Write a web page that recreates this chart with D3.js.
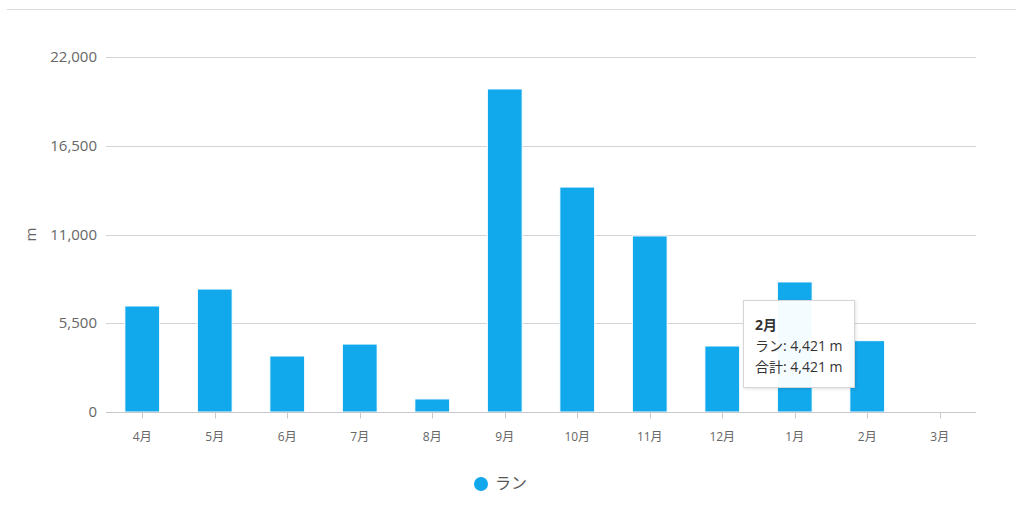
<!DOCTYPE html>
<html>
<head>
<meta charset="utf-8">
<script src="https://cdn.jsdelivr.net/npm/d3@7"></script>
<style>
  body { margin: 0; background: #fff; font-family: "Open Sans", "Noto Sans CJK JP", sans-serif; }
  #tip {
    position: absolute; left: 743px; top: 300px; width: 112px; height: 88px;
    background: rgba(255,255,255,0.96); border: 1px solid #d6d6d6;
    box-shadow: 1px 1px 3px rgba(0,0,0,0.12); box-sizing: border-box;
    font-size: 14px; color: #333; padding: 13px 0 0 11px; line-height: 21px;
  }
</style>
</head>
<body>
<div id="chart"></div>
<div id="tip"><b>2月</b><br>ラン: 4,421 m<br>合計: 4,421 m</div>
<script>
// Month data
var months = ["4月", "5月", "6月", "7月", "8月", "9月", "10月", "11月", "12月", "1月", "2月", "3月"];
var runValues = [6570, 7620, 3470, 4210, 810, 20020, 13940, 10910, 4090, 8060, 4421, 0];
var yTicks = [0, 5500, 11000, 16500, 22000];

var width = 1024, height = 507;
var margin = { left: 106, right: 48, top: 57, bottom: 95 };

var svg = d3.select("#chart").append("svg")
  .attr("width", width)
  .attr("height", height);

// top border line
svg.append("line")
  .attr("x1", 7).attr("x2", 1016)
  .attr("y1", 9.5).attr("y2", 9.5)
  .style("stroke", "#d9d9d9");

var x = d3.scaleBand()
  .domain(months)
  .range([margin.left, width - margin.right])
  .paddingInner(0.52)
  .paddingOuter(0.26);

var y = d3.scaleLinear()
  .domain([0, 22000])
  .range([height - margin.bottom, margin.top]);

// gridlines
svg.append("g")
  .selectAll("line")
  .data(yTicks)
  .enter().append("line")
  .attr("x1", margin.left).attr("x2", width - margin.right)
  .attr("y1", function(d) { return Math.round(y(d)) + 0.5; })
  .attr("y2", function(d) { return Math.round(y(d)) + 0.5; })
  .style("stroke", "#d4d4d8");

// y labels
svg.append("g")
  .selectAll("text")
  .data(yTicks)
  .enter().append("text")
  .attr("x", 97)
  .attr("y", function(d) { return y(d) + 5; })
  .attr("text-anchor", "end")
  .style("font-size", "15px")
  .style("fill", "#666")
  .text(function(d) { return d3.format(",")(d); });

// axis title
svg.append("text")
  .attr("transform", "translate(36," + y(11000) + ") rotate(-90)")
  .attr("text-anchor", "middle")
  .style("font-size", "15px")
  .style("fill", "#666")
  .text("m");

// bars
svg.append("g")
  .selectAll("rect")
  .data(runValues)
  .enter().append("rect")
  .attr("x", function(d, i) { return x(months[i]); })
  .attr("width", x.bandwidth())
  .attr("y", function(d) { return y(d); })
  .attr("height", function(d) { return y(0) - y(d); })
  .style("fill", "#12a8ec")
  .style("stroke", "#fff")
  .style("stroke-width", 1);

// x axis
var xAxis = svg.append("g")
  .attr("transform", "translate(0," + (Math.round(y(0)) + 0.5) + ")");
xAxis.append("line")
  .attr("x1", margin.left).attr("x2", width - margin.right)
  .style("stroke", "#c8c8cc");
xAxis.selectAll(".tk")
  .data(months)
  .enter().append("line")
  .attr("class", "tk")
  .attr("x1", function(d) { return Math.round(x(d) + x.bandwidth() / 2) + 0.5; })
  .attr("x2", function(d) { return Math.round(x(d) + x.bandwidth() / 2) + 0.5; })
  .attr("y1", 0).attr("y2", 6)
  .style("stroke", "#c8c8cc");
xAxis.selectAll("text")
  .data(months)
  .enter().append("text")
  .attr("x", function(d) { return x(d) + x.bandwidth() / 2; })
  .attr("y", 28)
  .attr("text-anchor", "middle")
  .style("font-size", "12px")
  .style("fill", "#666")
  .text(function(d) { return d; });

// legend
var legend = svg.append("g").attr("transform", "translate(481,484)");
legend.append("circle").attr("r", 7).style("fill", "#12a8ec");
legend.append("text")
  .attr("x", 14).attr("y", 5)
  .style("font-size", "16px")
  .style("fill", "#555")
  .text("ラン");
</script>
</body>
</html>
